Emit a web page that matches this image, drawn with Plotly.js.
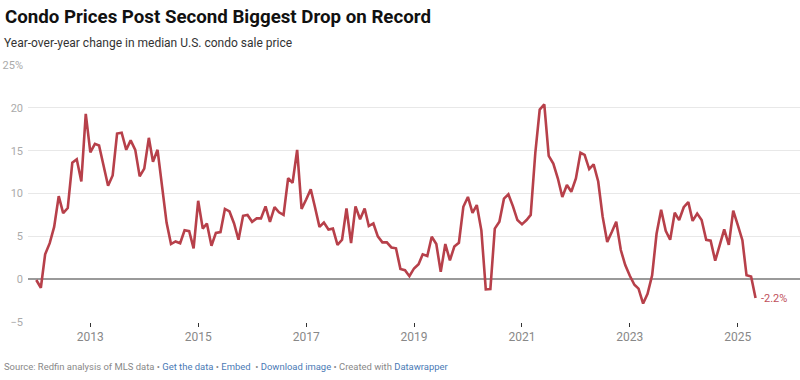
<!DOCTYPE html>
<html>
<head>
<meta charset="utf-8">
<script src="https://cdn.plot.ly/plotly-3.0.1.min.js"></script>
<style>
  html, body { margin: 0; padding: 0; background: #ffffff; }
  #chart { width: 800px; height: 380px; }
</style>
</head>
<body>
<div id="chart"></div>
<script>
// Monthly series starts January 2012
const startYear = 2012;
const startMonth = 1;

// Year-over-year change in median U.S. condo sale price (%), Jan 2012 - May 2025
const yoyChange = [
  -0.1, -1.0, 2.9, 4.2, 6.1, 9.7, 7.7, 8.3, 13.6, 14.0, 11.4, 19.3,   // 2012
  14.8, 15.8, 15.6, 13.3, 10.9, 12.1, 17.0, 17.1, 15.1, 16.2, 15.1, 12.0, // 2013
  12.9, 16.5, 13.7, 15.1, 11.0, 6.6, 4.1, 4.4, 4.2, 5.7, 5.6, 3.6,      // 2014
  9.15, 5.9, 6.5, 3.9, 5.4, 5.5, 8.2, 7.9, 6.5, 4.6, 7.4, 7.5,          // 2015
  6.7, 7.1, 7.1, 8.5, 6.7, 8.4, 7.8, 7.5, 11.8, 11.25, 15.1, 8.2,      // 2016
  9.3, 10.5, 8.45, 6.1, 6.6, 5.8, 5.9, 4.0, 4.6, 8.25, 4.2, 8.5,       // 2017
  7.0, 8.25, 6.2, 6.5, 5.0, 4.3, 4.3, 3.7, 3.6, 1.2, 1.05, 0.35,       // 2018
  1.25, 1.75, 2.9, 2.7, 4.95, 4.1, 0.85, 4.1, 2.2, 3.8, 4.25, 8.45,    // 2019
  9.6, 7.75, 8.65, 5.7, -1.2, -1.15, 5.9, 6.7, 9.4, 9.9, 8.5, 6.9,     // 2020
  6.4, 6.9, 7.5, 14.7, 19.8, 20.4, 14.4, 13.5, 11.75, 9.6, 11.0, 10.2, // 2021
  11.75, 14.75, 14.5, 12.85, 13.4, 11.4, 7.3, 4.35, 5.5, 6.7, 3.4, 1.65, // 2022
  0.4, -0.65, -1.1, -2.85, -1.7, 0.45, 5.3, 8.1, 5.65, 4.6, 7.75, 6.9, // 2023
  8.4, 9.0, 6.8, 7.65, 6.9, 4.6, 4.5, 2.15, 4.0, 5.8, 4.0, 8.0,        // 2024
  6.3, 4.55, 0.45, 0.3, -2.2                                            // 2025
];

const yTickVals = [-5, 0, 5, 10, 15, 20, 25];
const yTickText = ["\u22125", "0", "5", "10", "15", "20", "25%"];
const xTickYears = ["2013", "2015", "2017", "2019", "2021", "2023", "2025"];
const endLabel = "-2.2%";

const chartTitle = "Condo Prices Post Second Biggest Drop on Record";
const chartSubtitle = "Year-over-year change in median U.S. condo sale price";

// month dates for the series
const dates = yoyChange.map((_, i) => {
  const total = (startMonth - 1) + i;
  const y = startYear + Math.floor(total / 12);
  const m = (total % 12) + 1;
  return y + "-" + String(m).padStart(2, "0") + "-01";
});

const W = 800, H = 380;
const M = { l: 28, r: 0, t: 65, b: 58 };
const plotH = H - M.t - M.b;
const plotW = W - M.l - M.r;
const py = (p) => (H - M.b - p) / plotH;   // pixel y -> paper y
const px = (p) => (p - M.l) / plotW;       // pixel x -> paper x

const lineColor = "#b7404a";

const traces = [{
  type: "scatter",
  mode: "lines",
  x: dates,
  y: yoyChange,
  line: { color: lineColor, width: 2.6, shape: "linear" },
  hoverinfo: "skip",
  cliponaxis: false
}];

const layout = {
  width: W, height: H,
  margin: M,
  paper_bgcolor: "#ffffff",
  plot_bgcolor: "#ffffff",
  showlegend: false,
  font: { family: "Roboto, 'Noto Sans', sans-serif", color: "#333" },
  title: {
    text: "<b>" + chartTitle + "</b>",
    font: { family: "Roboto, sans-serif", size: 18.7, color: "#111" },
    xref: "container", yref: "container",
    x: 5 / W, xanchor: "left",
    y: 1 - 16 / H, yanchor: "middle"
  },
  xaxis: {
    type: "date",
    range: ["2011-11-06", "2026-02-26"],
    tickvals: xTickYears.map(y => y + "-01-01"),
    ticktext: xTickYears,
    ticks: "outside", ticklen: 4, tickwidth: 1, tickcolor: "#333",
    showgrid: false, zeroline: false, showline: false,
    tickfont: { family: "Roboto, sans-serif", size: 12, color: "#888" },
    fixedrange: true
  },
  yaxis: {
    range: [-5, 25],
    tickvals: yTickVals,
    ticktext: yTickText,
    ticks: "",
    showgrid: true, gridcolor: "#e8e8e8", gridwidth: 1,
    zeroline: true, zerolinecolor: "#9a9a9a", zerolinewidth: 2,
    showline: false,
    tickfont: { family: "Roboto, sans-serif", size: 11, color: "#aaa" },
    ticklabelstandoff: 4,
    fixedrange: true
  },
  annotations: [
    {
      text: chartSubtitle,
      xref: "paper", yref: "paper",
      x: px(2), y: py(43), xanchor: "left", yanchor: "middle",
      showarrow: false,
      font: { family: "Roboto, sans-serif", size: 12, color: "#333" }
    },
    {
      text: endLabel,
      xref: "x", yref: "y",
      x: dates[dates.length - 1], y: yoyChange[yoyChange.length - 1],
      xanchor: "left", yanchor: "middle", xshift: 3,
      showarrow: false,
      font: { family: "Roboto, sans-serif", size: 11, color: "#c0505a" }
    },
    {
      text: "Source: Redfin analysis of MLS data \u2022 <span style='color:#4a7ab5'>Get the data</span> \u2022 <span style='color:#4a7ab5'>Embed</span> \u00a0\u2022 <span style='color:#4a7ab5'>Download image</span> \u2022 Created with <span style='color:#4a7ab5'>Datawrapper</span>",
      xref: "paper", yref: "paper",
      x: px(2), y: py(366), xanchor: "left", yanchor: "middle",
      showarrow: false,
      font: { family: "Roboto, sans-serif", size: 9.45, color: "#888" }
    }
  ]
};

Plotly.newPlot("chart", traces, layout, { staticPlot: true, displayModeBar: false });
</script>
</body>
</html>
